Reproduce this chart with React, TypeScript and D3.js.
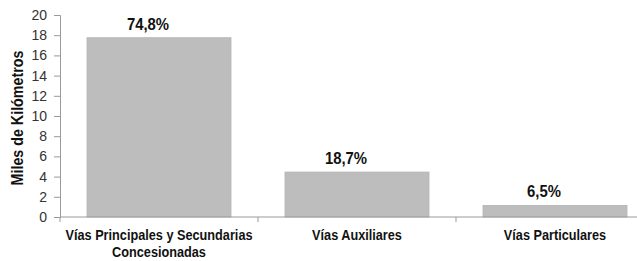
import { useEffect, useRef } from "react";
import * as d3 from "d3";

const categories = [
  ["Vías Principales y Secundarias", "Concesionadas"],
  ["Vías Auxiliares"],
  ["Vías Particulares"],
];
const values = [17.75, 4.45, 1.15];
const shares = ["74,8%", "18,7%", "6,5%"];
const yTicks = [0, 2, 4, 6, 8, 10, 12, 14, 16, 18, 20];

const W = 637;
const H = 261;
const margin = { left: 60, top: 15, bottom: 44 };

const App = () => {
  const ref = useRef<SVGSVGElement>(null);

  useEffect(() => {
    const svg = d3.select(ref.current);
    svg.selectAll("*").remove();

    const x = d3
      .scaleBand()
      .domain(categories.map((_, i) => String(i)))
      .range([margin.left, 654])
      .paddingInner(0.2727)
      .paddingOuter(0.1364);
    const y = d3.scaleLinear().domain([0, 20]).range([H - margin.bottom, margin.top]);

    // y axis
    const yAxis = svg
      .append("g")
      .attr("transform", `translate(${margin.left},0)`)
      .call(d3.axisLeft(y).tickValues(yTicks).tickSize(6).tickPadding(7).tickFormat(d3.format("d")));
    yAxis.selectAll("line,path").attr("stroke", "#9a9a9a");
    yAxis
      .selectAll("text")
      .attr("font-family", "Liberation Sans, Arial, sans-serif")
      .attr("font-size", 14)
      .attr("fill", "#333");

    // bars
    svg
      .selectAll("rect.bar")
      .data(values)
      .enter()
      .append("rect")
      .attr("class", "bar")
      .attr("x", (_, i) => x(String(i))!)
      .attr("width", x.bandwidth())
      .attr("y", (d) => y(d))
      .attr("height", (d) => y(0) - y(d))
      .attr("fill", "#bdbdbd")
      .attr("stroke", "#b3b3b3")
      .attr("stroke-width", 0.8);

    // x axis
    const x0 = y(0);
    svg
      .append("line")
      .attr("x1", margin.left)
      .attr("x2", W)
      .attr("y1", x0)
      .attr("y2", x0)
      .attr("stroke", "#9a9a9a");
    const step = x.step();
    svg
      .selectAll("line.xt")
      .data([0, 1, 2])
      .enter()
      .append("line")
      .attr("class", "xt")
      .attr("x1", (d) => margin.left + d * step)
      .attr("x2", (d) => margin.left + d * step)
      .attr("y1", x0)
      .attr("y2", x0 + 5)
      .attr("stroke", "#9a9a9a");

    const font = "'Liberation Sans', Arial, sans-serif";

    // category labels (condensed bold in the original)
    const cat = svg
      .selectAll("text.cat")
      .data(categories)
      .enter()
      .append("text")
      .attr("class", "cat")
      .attr("text-anchor", "middle")
      .attr("font-family", font)
      .attr("font-weight", "bold")
      .attr("font-size", 15.5)
      .attr("fill", "#111")
      .attr(
        "transform",
        (_, i) => `translate(${x(String(i))! + x.bandwidth() / 2},${x0 + 23}) scale(0.82,1)`
      );
    cat
      .selectAll("tspan")
      .data((d) => d)
      .enter()
      .append("tspan")
      .attr("x", 0)
      .attr("y", (_, j) => j * 17)
      .text((d) => d);

    // value labels
    svg
      .selectAll("text.val")
      .data(values)
      .enter()
      .append("text")
      .attr("class", "val")
      .attr("text-anchor", "middle")
      .attr("font-family", font)
      .attr("font-weight", "bold")
      .attr("font-size", 16)
      .attr("fill", "#111")
      .attr(
        "transform",
        (d, i) => `translate(${x(String(i))! + x.bandwidth() / 2 - 11},${y(d) - 8}) scale(0.93,1)`
      )
      .text((_, i) => shares[i]);

    // y title
    svg
      .append("text")
      .attr("transform", `translate(23,${(margin.top + x0) / 2 + 2}) rotate(-90) scale(0.84,1)`)
      .attr("text-anchor", "middle")
      .attr("font-family", font)
      .attr("font-weight", "bold")
      .attr("font-size", 17)
      .attr("fill", "#111")
      .text("Miles de Kilómetros");
  }, []);

  return (
    <svg
      ref={ref}
      width={W}
      height={H}
      style={{ position: "absolute", left: 0, top: 0, background: "#fff" }}
    />
  );
};

export default App;
